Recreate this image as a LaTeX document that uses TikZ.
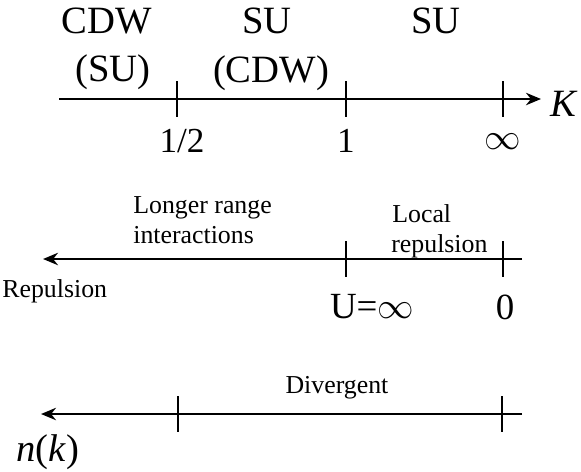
\documentclass[tikz,border=0pt]{standalone}
\usepackage{fontspec}
\setmainfont{Liberation Serif}
\usetikzlibrary{positioning,arrows.meta}

\tikzset{
  axis/.style={line width=1.6pt},
  tick/.style={line width=1.2pt},
  toplbl/.style={inner sep=0pt, font=\fontsize{22}{26}\selectfont},
  biglbl/.style={inner sep=0pt, font=\fontsize{20}{24}\selectfont},
  smalllbl/.style={inner sep=0pt, font=\fontsize{14.7}{17}\selectfont},
}

\begin{document}
\begin{tikzpicture}[>={Stealth[length=8.5pt,width=7pt]}, x=0.02cm, y=-0.02cm]
  \useasboundingbox (0,0) rectangle (581,471);

  % K axis
  \coordinate (kl) at (59,99);
  \coordinate (kr) at (541,99);
  \draw[axis,->] (kl) -- (kr);
  \foreach \x in {177,346,503} {
    \draw[tick] (\x,81) -- (\x,117);
  }
  \node[biglbl, anchor=west, font=\fontsize{22}{26}\selectfont\itshape] (K) at (550,104) {K};
  \node[biglbl, anchor=base] (half) at (182,152) {1/2};
  \node[biglbl, anchor=base] (one) at (346,152) {1};
  \node[biglbl, anchor=base] (kinf) at (503,149) {$\infty$};

  \node[toplbl, anchor=base] (cdw) at (107,33) {CDW};
  \node[toplbl, anchor=base] (cdwsu) at (113,81) {(SU)};
  \node[toplbl, anchor=base] (su) at (267,33) {SU};
  \node[toplbl, anchor=base] (sucdw) at (271,82) {(CDW)};
  \node[toplbl, anchor=base] (suright) at (436,33) {SU};

  % interaction axis
  \coordinate (ur) at (522,259);
  \coordinate (ul) at (43,259);
  \draw[axis,->] (ur) -- (ul);
  \foreach \x in {346,503} {
    \draw[tick] (\x,241) -- (\x,277);
  }
  \node[smalllbl, anchor=base west] (longer) at (133,213) {Longer range};
  \node[smalllbl, anchor=base west] (inter) at (133,243) {interactions};
  \node[smalllbl, anchor=base west] (local) at (392,222) {Local};
  \node[smalllbl, anchor=base west] (locrep) at (391,252) {repulsion};
  \node[smalllbl, anchor=base west] (rep) at (2,297) {Repulsion};
  \node[biglbl, font=\fontsize{21}{25}\selectfont] (uinf) at (372,307) {U=$\infty$};
  \node[biglbl, font=\fontsize{21}{25}\selectfont] (uzero) at (505,307) {0};

  % momentum distribution axis
  \coordinate (nr) at (522,414);
  \coordinate (nl) at (41,414);
  \draw[axis,->] (nr) -- (nl);
  \foreach \x in {178,502} {
    \draw[tick] (\x,396) -- (\x,432);
  }
  \node[smalllbl, anchor=base] (div) at (337,393) {Divergent};
  \node[biglbl, font=\fontsize{22}{26}\selectfont] (nk) at (48,452) {\textit{n}(\textit{k})};
\end{tikzpicture}
\end{document}
